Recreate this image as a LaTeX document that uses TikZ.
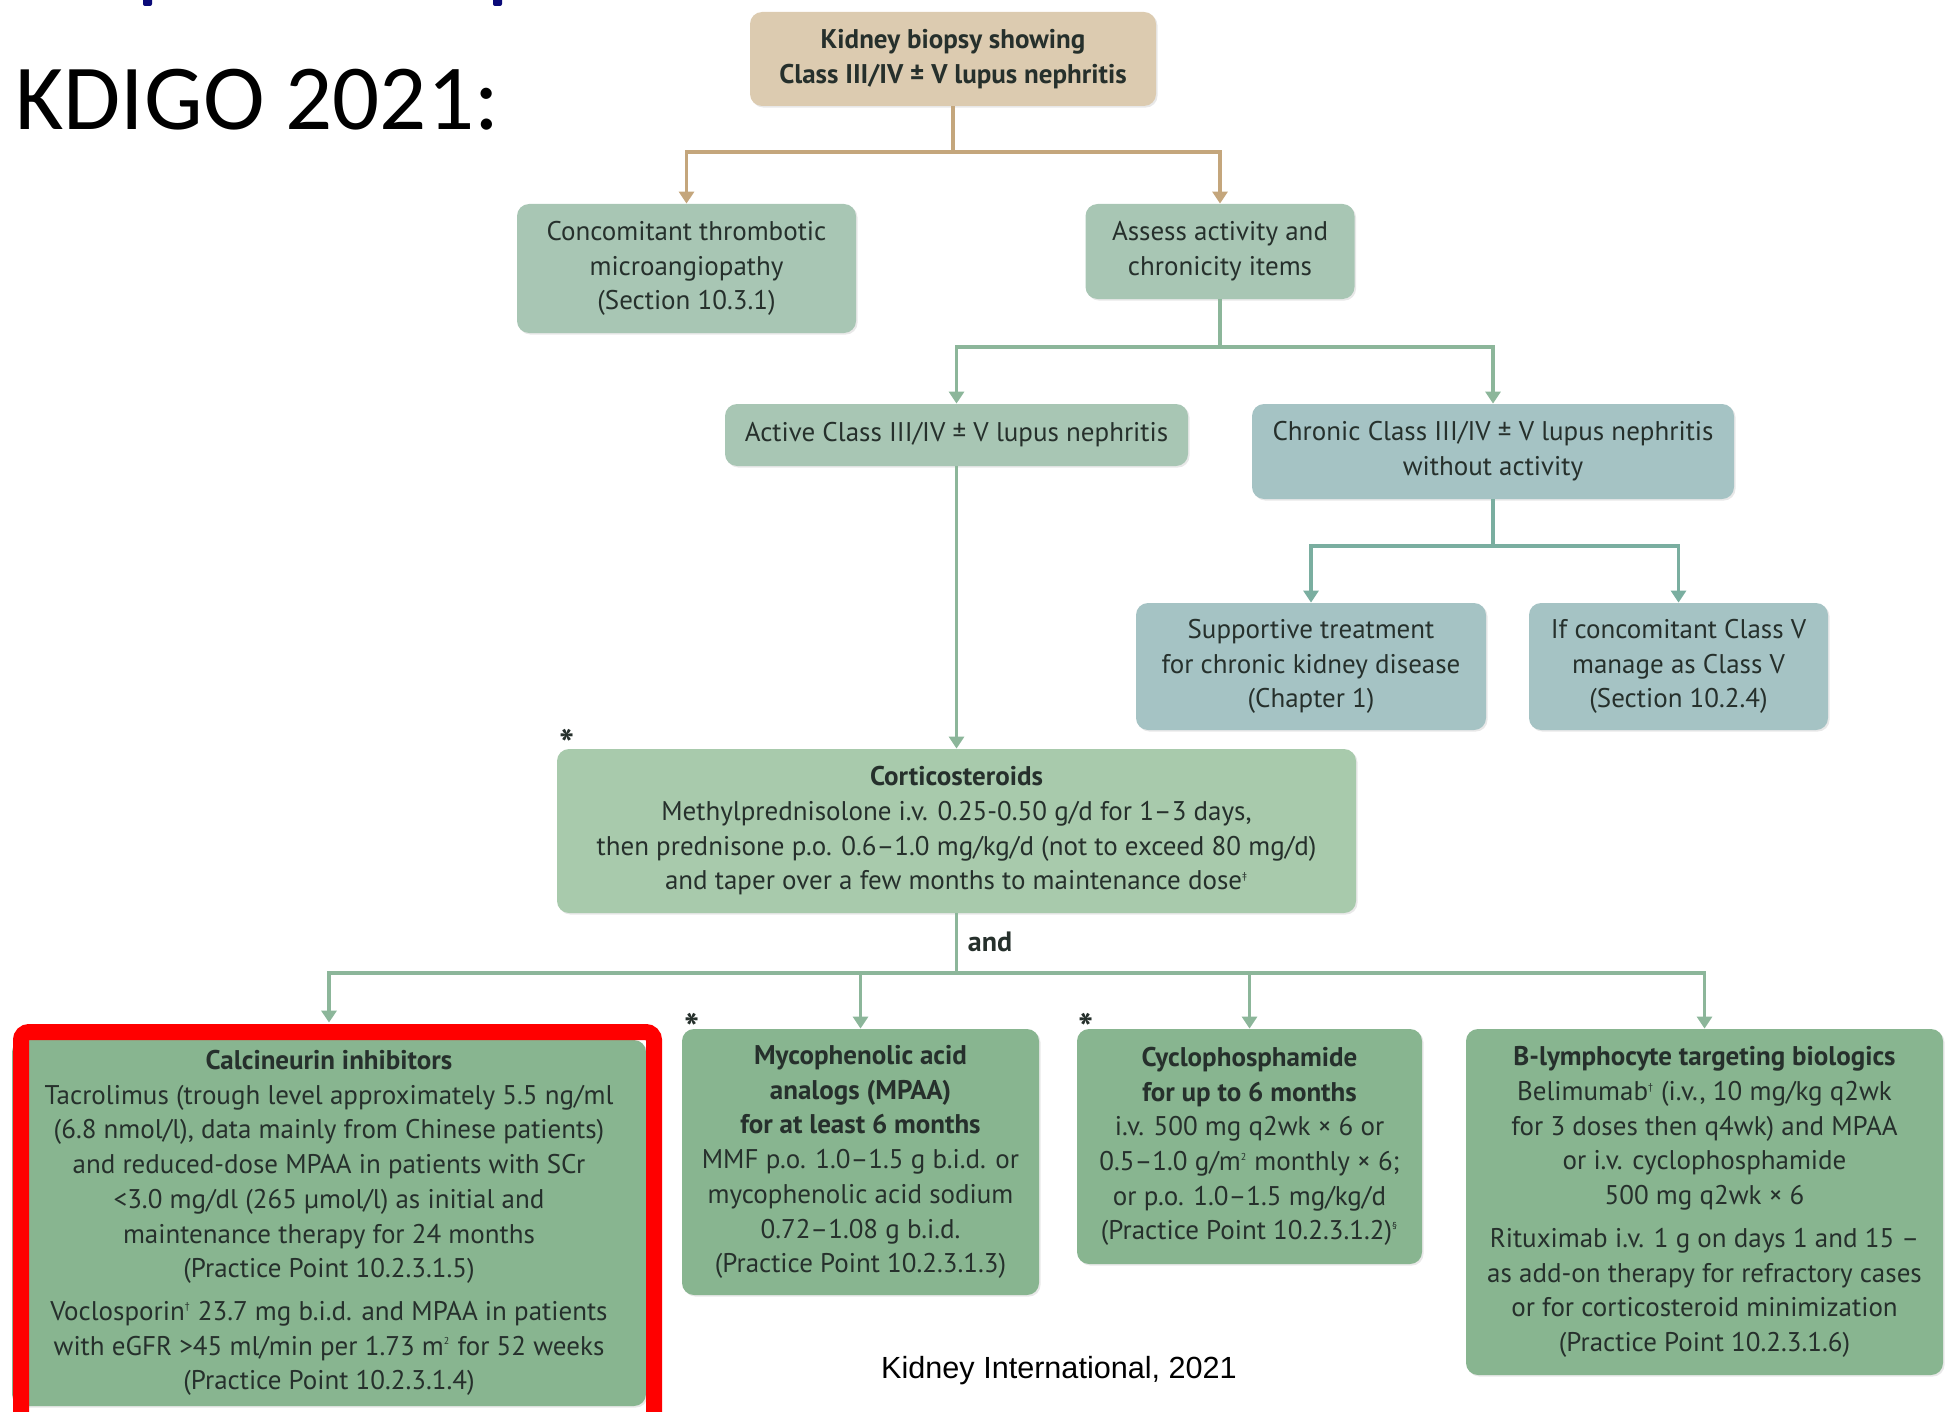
\documentclass[tikz,border=0pt]{standalone}
\usepackage{fontspec}
\setmainfont{PT Sans}
\newfontfamily\titlefont{Carlito}
\newfontfamily\arialfont{Liberation Sans}
\usetikzlibrary{arrows.meta,shadows}
\definecolor{tanfill}{RGB}{220,203,176}
\definecolor{tanline}{RGB}{196,166,124}
\definecolor{sagefill}{RGB}{168,198,180}
\definecolor{bluefill}{RGB}{165,195,196}
\definecolor{cortfill}{RGB}{168,202,172}
\definecolor{darkfill}{RGB}{136,181,144}
\definecolor{gline}{RGB}{140,182,154}
\definecolor{tline}{RGB}{122,174,160}
\definecolor{txt}{RGB}{38,48,44}
\definecolor{navy}{RGB}{10,10,120}
\begin{document}
\begin{tikzpicture}[x=0.5pt,y=-0.5pt,
  box/.style={rounded corners=6pt, align=center, inner sep=0pt, text=txt,
    font=\fontsize{13.5}{17.35}\selectfont,
    drop shadow={opacity=0.18, shadow xshift=0.8pt, shadow yshift=-0.8pt}},
  tancon/.style={line width=1.6pt, draw=tanline},
  gcon/.style={line width=1.6pt, draw=gline},
  tcon/.style={line width=1.6pt, draw=tline},
  tip/.style={-{Triangle[width=7.5pt,length=6pt]}},
  astx/.style={font=\bfseries\fontsize{20}{22}\selectfont, text=txt, inner sep=0pt}
]
\useasboundingbox (0,0) rectangle (1953,1412);

% cut-off title remnants
\fill[navy, rounded corners=1pt] (143,-3) rectangle (152,6);
\fill[navy, rounded corners=1pt] (493,-3) rectangle (502,6);

\node[anchor=west, inner sep=0pt, font=\titlefont\fontsize{46.5}{50}\selectfont] (title) at (15,100) {KDIGO 2021:};

% boxes
\node[box, fill=tanfill, minimum width=203pt, minimum height=47pt] (top) at (953,59)
  {\textbf{Kidney biopsy showing}\\\textbf{Class III/IV ± V lupus nephritis}};
\node[box, fill=sagefill, minimum width=169.5pt, minimum height=64.5pt] (tma) at (686.5,268.5)
  {Concomitant thrombotic\\microangiopathy\\(Section 10.3.1)};
\node[box, fill=sagefill, minimum width=134.5pt, minimum height=47.5pt] (assess) at (1220,251.5)
  {Assess activity and\\chronicity items};
\node[box, fill=sagefill, minimum width=231.5pt, minimum height=31pt] (active) at (956.5,435)
  {Active Class III/IV ± V lupus nephritis};
\node[box, fill=bluefill, minimum width=241pt, minimum height=47.5pt] (chronic) at (1493,451.5)
  {Chronic Class III/IV ± V lupus nephritis\\without activity};
\node[box, fill=bluefill, minimum width=175pt, minimum height=63.5pt] (support) at (1311,666.5)
  {Supportive treatment\\for chronic kidney disease\\(Chapter 1)};
\node[box, fill=bluefill, minimum width=149.5pt, minimum height=63.5pt] (ifcon) at (1678.5,666.5)
  {If concomitant Class V\\manage as Class V\\(Section 10.2.4)};
\node[box, fill=cortfill, minimum width=399.5pt, minimum height=82pt] (cort) at (956.5,831)
  {\textbf{Corticosteroids}\\
   Methylprednisolone i.v. 0.25-0.50 g/d for 1–3 days,\\
   then prednisone p.o. 0.6–1.0 mg/kg/d (not to exceed 80 mg/d)\\
   and taper over a few months to maintenance dose\textsuperscript{\tiny ‡}};
\node[box, fill=darkfill, minimum width=317pt, minimum height=183pt] (calc) at (329,1223)
  {\textbf{Calcineurin inhibitors}\\
   Tacrolimus (trough level approximately 5.5 ng/ml\\
   (6.8 nmol/l), data mainly from Chinese patients)\\
   and reduced-dose MPAA in patients with SCr\\
   <3.0 mg/dl (265 µmol/l) as initial and\\
   maintenance therapy for 24 months\\
   (Practice Point 10.2.3.1.5)\\[4pt]
   Voclosporin\textsuperscript{\tiny †} 23.7 mg b.i.d. and MPAA in patients\\
   with eGFR >45 ml/min per 1.73 m\textsuperscript{\tiny 2} for 52 weeks\\
   (Practice Point 10.2.3.1.4)};
\node[box, fill=darkfill, minimum width=178.5pt, minimum height=133pt] (mpaa) at (860.5,1162)
  {\textbf{Mycophenolic acid}\\\textbf{analogs (MPAA)}\\\textbf{for at least 6 months}\\
   MMF p.o. 1.0–1.5 g b.i.d. or\\mycophenolic acid sodium\\0.72–1.08 g b.i.d.\\(Practice Point 10.2.3.1.3)};
\node[box, fill=darkfill, minimum width=172.5pt, minimum height=117.5pt] (cyclo) at (1249.5,1146.5)
  {\textbf{Cyclophosphamide}\\\textbf{for up to 6 months}\\
   i.v. 500 mg q2wk × 6 or\\0.5–1.0 g/m\textsuperscript{\tiny 2} monthly × 6;\\or p.o. 1.0–1.5 mg/kg/d\\(Practice Point 10.2.3.1.2)\textsuperscript{\tiny §}};
\node[box, fill=darkfill, minimum width=238.5pt, minimum height=173pt] (blym) at (1704.5,1202)
  {\textbf{B-lymphocyte targeting biologics}\\
   Belimumab\textsuperscript{\tiny †} (i.v., 10 mg/kg q2wk\\
   for 3 doses then q4wk) and MPAA\\
   or i.v. cyclophosphamide\\
   500 mg q2wk × 6\\[4pt]
   Rituximab i.v. 1 g on days 1 and 15 –\\
   as add-on therapy for refractory cases\\
   or for corticosteroid minimization\\
   (Practice Point 10.2.3.1.6)};

% highlight frame
\node[draw=red, line width=8pt, rounded corners=4pt, minimum width=316.5pt, minimum height=204pt, inner sep=0pt] (hl) at (337.5,1236) {};

% connectors
\coordinate (ja) at (953,152);
\draw[tancon] (top.south) -- (ja);
\draw[tancon,tip] (ja) -| (tma.north);
\draw[tancon,tip] (ja) -| (assess.north);

\coordinate (jb) at (1220,347);
\draw[gcon] (assess.south) -- (jb);
\draw[gcon,tip] (jb) -| (active.north);
\draw[gcon,tip] (jb) -| (chronic.north);

\coordinate (jc) at (1493,546);
\draw[tcon] (chronic.south) -- (jc);
\draw[tcon,tip] (jc) -| (support.north);
\draw[tcon,tip] (jc) -| (ifcon.north);

\draw[gcon,tip] (active.south) -- (cort.north);

\coordinate (jd) at (956.5,973);
\draw[gcon] (cort.south) -- (jd);
\draw[gcon,tip,shorten >=8.5pt] (jd) -| (calc.north);
\draw[gcon,tip] (jd) -| (mpaa.north);
\draw[gcon,tip] (jd) -| (cyclo.north);
\draw[gcon,tip] (jd) -| (blym.north);

% labels
\node[font=\bfseries\fontsize{14}{17}\selectfont, text=txt] (andlbl) at (990,942) {and};
\node[astx] (s1) at (567,744) {*};
\node[astx] (s2) at (692,1028) {*};
\node[astx] (s3) at (1086,1028) {*};
\node[font=\arialfont\fontsize{15.3}{18}\selectfont] (cite) at (1059,1371) {Kidney International, 2021};
\end{tikzpicture}
\end{document}
